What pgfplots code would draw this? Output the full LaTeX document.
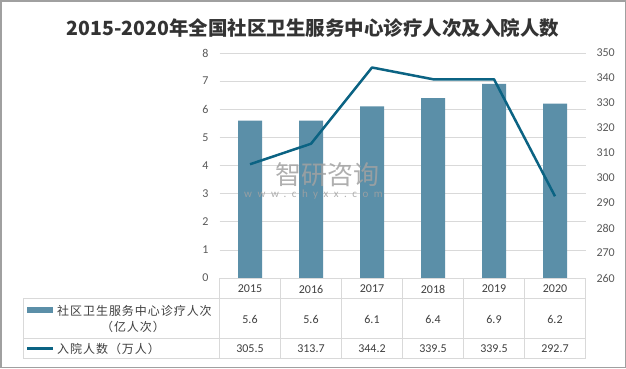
\documentclass[border=0pt]{standalone}
\usepackage{fontspec}
\usepackage{pgfplots}
\pgfplotsset{compat=1.18}
\setmainfont{Carlito}
\newfontfamily\cjk{Noto Sans CJK SC}
\newfontfamily\cjkt[LetterSpace=8]{Noto Sans CJK SC}
\newfontfamily\wm[LetterSpace=50]{Carlito}
\definecolor{barc}{HTML}{5B8FA8}
\definecolor{linec}{HTML}{0B6383}
\definecolor{gridc}{HTML}{D9D9D9}
\definecolor{tickc}{HTML}{595959}
\definecolor{txt}{HTML}{404040}
\definecolor{frm}{HTML}{A0A0A0}
\definecolor{wmc}{HTML}{A2A2A2}
\begin{document}
\begin{tikzpicture}[x=1pt,y=1pt]
\useasboundingbox (0,0) rectangle (626,368);
\fill[white] (0,0) rectangle (626,368);
\begin{axis}[at={(219.5pt,90pt)}, anchor=south west, scale only axis,
  width=366pt, height=225pt, xmin=-0.5, xmax=5.5, ymin=0, ymax=8,
  ytick={0,1,...,8}, axis x line=none, axis y line*=left,
  y axis line style={draw=none}, major tick length=0pt,
  ymajorgrids, grid style={gridc, line width=0.75pt},
  yticklabel style={font=\fontsize{12}{14}\selectfont, text=tickc, xshift=-7.5pt},
  /pgf/number format/assume math mode=true, clip=false]
\addplot[ybar, bar width=24pt, fill=barc, draw=none] coordinates {(0,5.6)(1,5.6)(2,6.1)(3,6.4)(4,6.9)(5,6.2)};
\end{axis}
% watermark
\node[text=wmc, opacity=0.85, font=\cjk\fontsize{26}{30}\selectfont, anchor=west, inner sep=0pt] at (275,193) {智研咨询};
\node[text=wmc, opacity=0.85, font=\wm\fontsize{11}{13}\selectfont, anchor=west, inner sep=0pt] at (244,173) {www.chyxx.com};
\begin{axis}[at={(219.5pt,90pt)}, anchor=south west, scale only axis,
  width=366pt, height=225pt, xmin=-0.5, xmax=5.5, ymin=260, ymax=350,
  ytick={260,270,...,350}, axis x line=none, axis y line*=right,
  y axis line style={draw=none}, major tick length=0pt,
  yticklabel style={font=\fontsize{12}{14}\selectfont, text=tickc, xshift=7.5pt},
  /pgf/number format/assume math mode=true, clip=false]
\addplot[linec, line width=2.5pt, mark=none, line join=round] coordinates {(0,305.5)(1,313.7)(2,344.2)(3,339.5)(4,339.5)(5,292.7)};
\end{axis}
% data table
\draw[gridc, line width=0.75pt] (219.5,90) -- (585.5,90);
\draw[gridc, line width=0.75pt] (23,69.5) -- (585.5,69.5);
\draw[gridc, line width=0.75pt] (23,29.5) -- (585.5,29.5);
\draw[gridc, line width=0.75pt] (23,9.5) -- (585.5,9.5);
\draw[gridc, line width=0.75pt] (23,69.5) -- (23,9.5);
\foreach \i in {0,...,6} { \draw[gridc, line width=0.75pt] ({219.5+61*\i},90) -- ({219.5+61*\i},9.5); }
\foreach \y [count=\i from 0] in {2015,2016,2017,2018,2019,2020} { \node[text=txt, font=\fontsize{12}{14}\selectfont] at ({250+61*\i},79) {\y}; }
\foreach \v [count=\i from 0] in {5.6,5.6,6.1,6.4,6.9,6.2} { \node[text=txt, font=\fontsize{12}{14}\selectfont] at ({250+61*\i},49) {\v}; }
\foreach \v [count=\i from 0] in {305.5,313.7,344.2,339.5,339.5,292.7} { \node[text=txt, font=\fontsize{12}{14}\selectfont] at ({250+61*\i},19.5) {\v}; }
\fill[barc] (27,55) rectangle (53,61);
\node[text=txt, font=\cjkt\fontsize{12}{14}\selectfont, anchor=west, inner sep=0pt] at (57,57) {社区卫生服务中心诊疗人次};
\node[text=txt, font=\cjkt\fontsize{12}{14}\selectfont, inner sep=0pt] at (133,41) {（亿人次）};
\draw[linec, line width=2.5pt] (27,19.5) -- (53,19.5);
\node[text=txt, font=\cjkt\fontsize{12}{14}\selectfont, anchor=west, inner sep=0pt] at (57,19.5) {入院人数（万人）};
% title
\node[text=black!80, font=\cjk\bfseries\fontsize{19.5}{24}\selectfont] at (313,339.5) {2015-2020年全国社区卫生服务中心诊疗人次及入院人数};
% frame
\draw[frm, line width=1.5pt] (0.75,0.75) rectangle (625.25,367.25);
\end{tikzpicture}
\end{document}
